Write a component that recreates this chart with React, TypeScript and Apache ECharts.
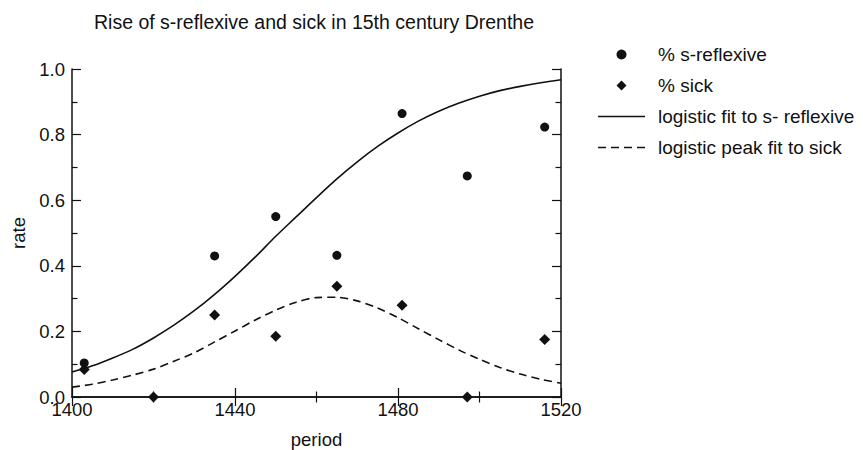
import { useEffect, useRef } from "react";
import * as echarts from "echarts";

const titleText = "Rise of s-reflexive and sick in 15th century Drenthe";
const periods = [1403, 1420, 1435, 1450, 1465, 1481, 1497, 1516];
const reflexiveRates: (number | null)[] = [0.104, null, 0.43, 0.55, 0.432, 0.864, 0.674, 0.823];
const sickRates = [0.084, 0, 0.25, 0.185, 0.338, 0.28, 0, 0.175];
const fitYears = [1400, 1405, 1410, 1415, 1420, 1425, 1430, 1435, 1440, 1445, 1450, 1455, 1460, 1465, 1470, 1475, 1480, 1485, 1490, 1495, 1500, 1505, 1510, 1515, 1520];
const reflexiveFit = [0.076, 0.095, 0.119, 0.146, 0.18, 0.219, 0.263, 0.313, 0.368, 0.427, 0.49, 0.549, 0.608, 0.665, 0.717, 0.764, 0.805, 0.841, 0.871, 0.896, 0.917, 0.934, 0.947, 0.958, 0.967];
const sickFit = [0.03, 0.039, 0.052, 0.067, 0.085, 0.109, 0.135, 0.168, 0.201, 0.235, 0.265, 0.289, 0.303, 0.304, 0.293, 0.271, 0.242, 0.208, 0.175, 0.143, 0.115, 0.09, 0.07, 0.054, 0.042];
const seriesNames = ["% s-reflexive", "% sick", "logistic fit to s- reflexive", "logistic peak fit to sick"];

const FONT = "'Liberation Sans', Arial, Helvetica, sans-serif";
const INK = "#111";
const DIAMOND_ICON = "path://M5,0L10,5L5,10L0,5Z";
const SOLID_ICON = "path://M0,0H47V1.6H0Z";
const DASH_ICON = "path://M0,0H8V1.6H0Z M13,0H21V1.6H13Z M26,0H34V1.6H26Z M39,0H47V1.6H39Z";

export default function App() {
  const ref = useRef<HTMLDivElement>(null);
  useEffect(() => {
    if (!ref.current) return;
    const chart = echarts.init(ref.current, null, { renderer: "svg" });
    const axisLine = { show: true, lineStyle: { color: INK, width: 1.5 } };
    const tick = { show: true, inside: true, length: 9, lineStyle: { color: INK, width: 1.2 } };
    const minor = { show: true, splitNumber: 2, length: 5.5, lineStyle: { color: INK, width: 1.2 } };
    const xBase = { type: "value" as const, min: 1400, max: 1520, interval: 40, splitLine: { show: false }, axisLine, axisTick: tick, minorTick: minor };
    const yBase = { type: "value" as const, min: 0, max: 1, interval: 0.2, splitLine: { show: false }, axisLine, axisTick: tick, minorTick: minor };
    chart.setOption({
      animation: false,
      backgroundColor: "#fff",
      title: {
        text: titleText,
        left: 309,
        top: 7,
        textAlign: "center",
        textStyle: { fontFamily: FONT, fontSize: 19.5, fontWeight: "normal", color: INK },
      },
      legend: {
        orient: "vertical",
        left: 593,
        top: 40,
        itemWidth: 47,
        itemHeight: 10,
        itemGap: 12,
        symbolKeepAspect: true,
        data: [
          { name: seriesNames[0], icon: "circle" },
          { name: seriesNames[1], icon: DIAMOND_ICON },
          { name: seriesNames[2], icon: SOLID_ICON },
          { name: seriesNames[3], icon: DASH_ICON },
        ],
        itemStyle: { color: INK, opacity: 1 },
        textStyle: { fontFamily: FONT, fontSize: 19, color: INK, lineHeight: 19, padding: [0, 0, 0, 8] },
      },
      grid: { left: 72, width: 489, top: 69, height: 328, containLabel: false, outerBoundsMode: "none" },
      xAxis: [
        {
          ...xBase,
          position: "bottom",
          name: "period",
          nameLocation: "middle",
          nameGap: 35,
          nameTextStyle: { fontFamily: FONT, fontSize: 18.5, color: INK, lineHeight: 14 },
          axisLabel: { margin: 6, lineHeight: 13, fontFamily: FONT, fontSize: 18.5, color: INK, formatter: (v: number) => String(v) },
        },
        { ...xBase, position: "top", axisLabel: { show: false } },
      ],
      yAxis: [
        {
          ...yBase,
          position: "left",
          name: "rate",
          nameLocation: "middle",
          nameGap: 44,
          nameTextStyle: { fontFamily: FONT, fontSize: 18.5, color: INK },
          axisLabel: { margin: 7, lineHeight: 9, padding: [0, 0, 3, 0], fontFamily: FONT, fontSize: 18.5, color: INK, formatter: (v: number) => v.toFixed(1) },
        },
        { ...yBase, position: "right", axisLabel: { show: false } },
      ],
      series: [
        {
          name: seriesNames[0],
          type: "scatter",
          symbol: "circle",
          symbolSize: 9,
          z: 5,
          itemStyle: { color: INK, opacity: 1 },
          data: periods.map((p, i) => [p, reflexiveRates[i]]).filter((d) => d[1] !== null),
        },
        {
          name: seriesNames[1],
          type: "scatter",
          symbol: "diamond",
          symbolSize: 11,
          z: 5,
          itemStyle: { color: INK, opacity: 1 },
          data: periods.map((p, i) => [p, sickRates[i]]),
        },
        {
          name: seriesNames[2],
          type: "line",
          smooth: 0.3,
          symbol: "none",
          showSymbol: false,
          lineStyle: { color: INK, width: 1.6 },
          itemStyle: { color: INK },
          data: fitYears.map((y, i) => [y, reflexiveFit[i]]),
        },
        {
          name: seriesNames[3],
          type: "line",
          smooth: 0.3,
          symbol: "none",
          showSymbol: false,
          lineStyle: { color: INK, width: 1.6, type: [8, 5] },
          itemStyle: { color: INK },
          data: fitYears.map((y, i) => [y, sickFit[i]]),
        },
      ],
    });
    return () => chart.dispose();
  }, []);
  return <div ref={ref} style={{ position: "absolute", left: 0, top: 0, width: 863, height: 450 }} />;
}
